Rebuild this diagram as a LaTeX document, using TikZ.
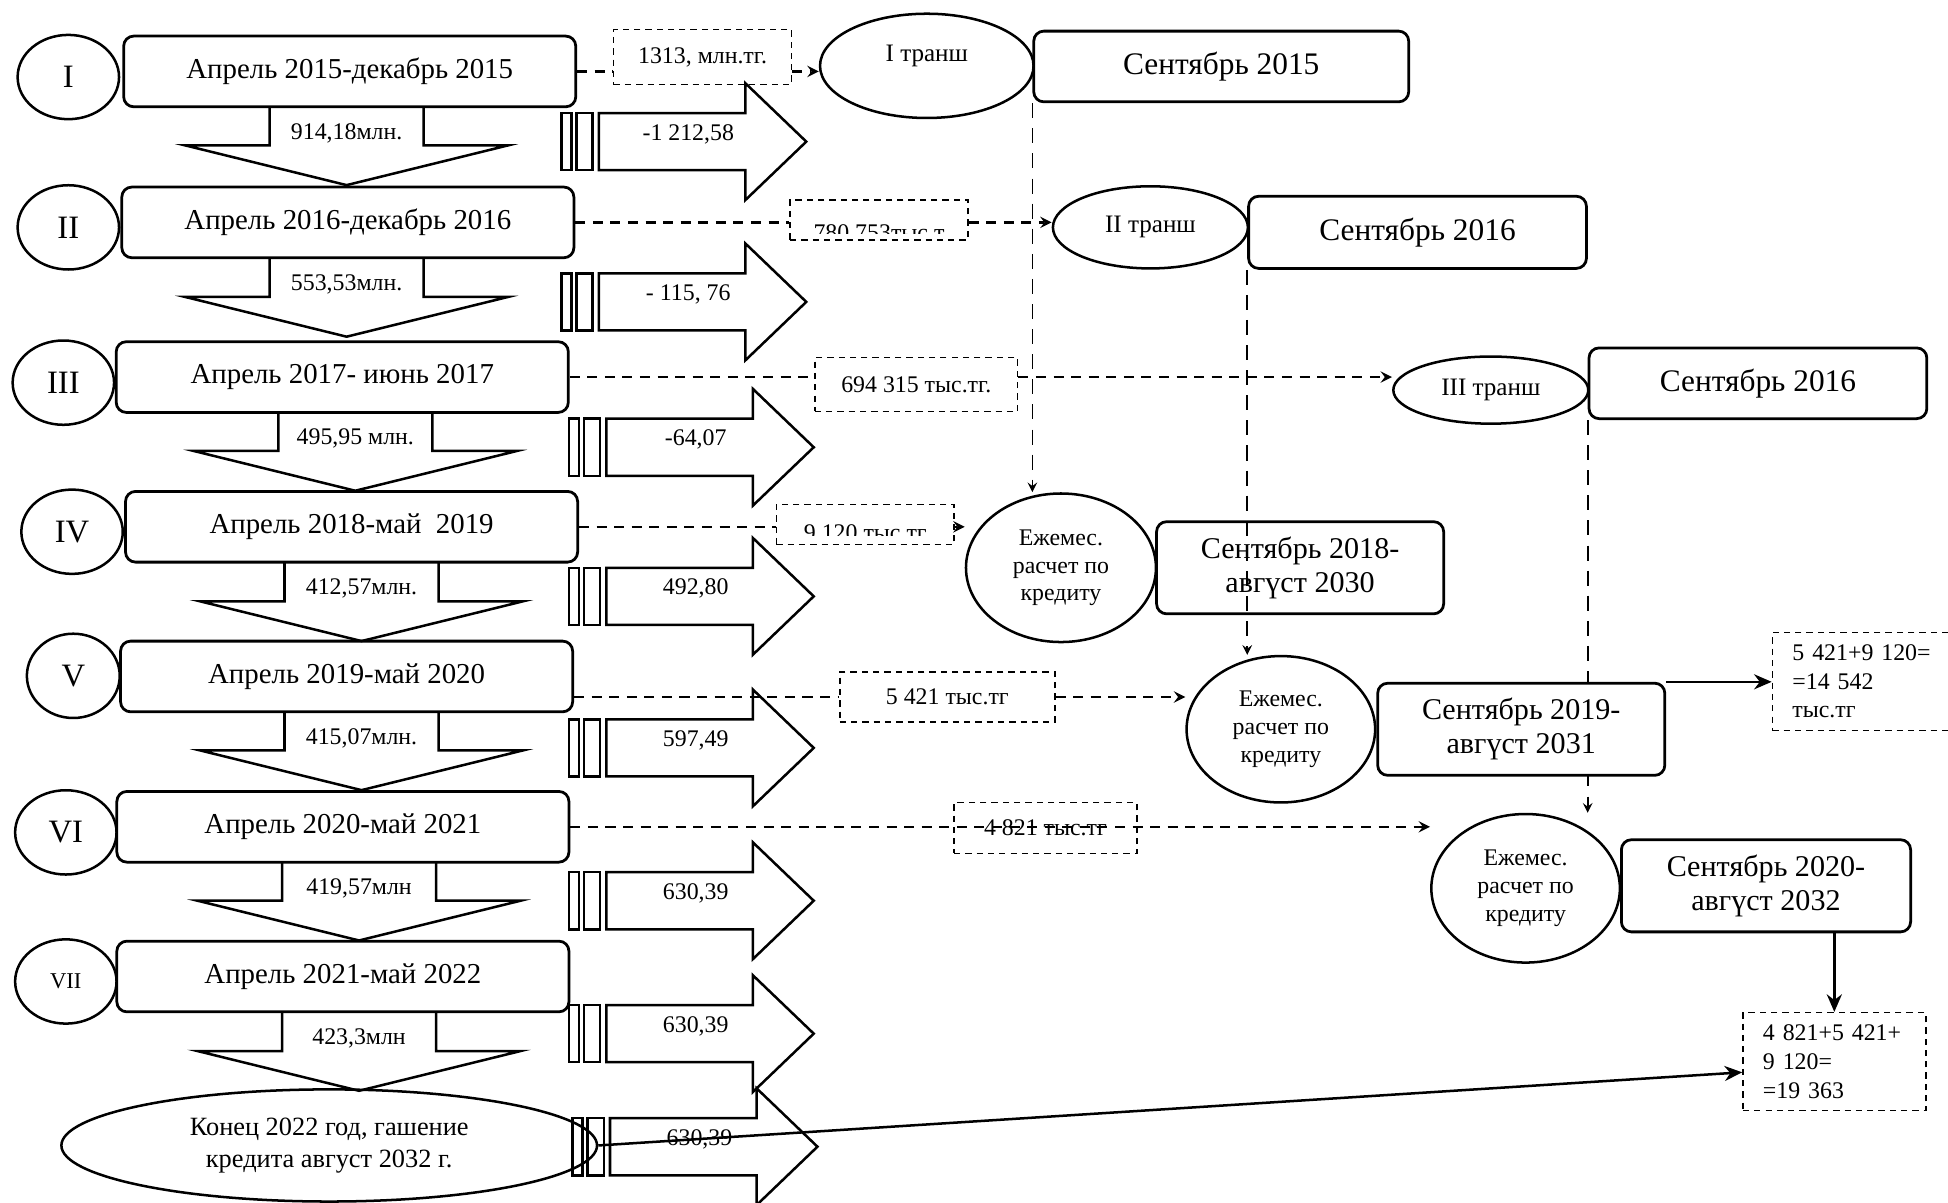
\documentclass[tikz,border=0pt]{standalone}
\usepackage{fontspec}
\setmainfont{Liberation Serif}
\usetikzlibrary{shapes.geometric, arrows.meta, backgrounds}

\begin{document}
\begin{tikzpicture}[x=0.0174cm, y=-0.0174cm,
    period/.style={draw, line width=1.1pt, rounded corners=4pt, minimum width=6.33cm, minimum height=0.99cm, font=\fontsize{11.5}{13}\selectfont},
    roman/.style={draw, ellipse, line width=1pt, minimum width=1.42cm, minimum height=1.18cm, inner sep=0pt, font=\fontsize{13}{15}\selectfont},
    month/.style={draw, line width=1.1pt, rounded corners=4pt, align=center, font=\fontsize{12.5}{13.5}\selectfont},
    month2/.style={month, font=\fontsize{12}{13.5}\selectfont},
    tranche/.style={draw, ellipse, line width=1pt, inner sep=0pt, font=\fontsize{10}{12}\selectfont},
    monthly/.style={draw, ellipse, line width=1pt, inner sep=0pt, align=center, minimum width=2.66cm, minimum height=2.08cm, font=\fontsize{9.5}{11}\selectfont},
    lbl/.style={draw, dash pattern=on 2.5pt off 2pt, line width=0.6pt, inner sep=0pt, font=\fontsize{9.5}{11}\selectfont},
    sumbox/.style={draw, dash pattern=on 2.5pt off 2pt, line width=0.6pt, align=left, inner xsep=0.28cm, font=\fontsize{9.5}{11.4}\selectfont},
    small/.style={font=\fontsize{9.5}{11}\selectfont, inner sep=1pt},
    blockarrow/.style={line width=1pt, line join=miter},
    link/.style={line width=1pt, dash pattern=on 4pt off 3pt, >=stealth},
    drop/.style={line width=0.7pt, dash pattern=on 6pt off 4pt, ->, >=stealth},
    solid/.style={line width=1pt, ->, >={Stealth[length=7pt, width=6pt]}}
  ]
  \useasboundingbox (0,0) rectangle (1568,968);

  % Periods
  \node[period] (p1) at (281.5,57.5) {Апрель 2015-декабрь 2015};
  \node[period] (p2) at (280,179) {Апрель 2016-декабрь 2016};
  \node[period] (p3) at (275.5,303.5) {Апрель 2017- июнь 2017};
  \node[period] (p4) at (283,424) {Апрель 2018-май~ 2019};
  \node[period] (p5) at (279,544.5) {Апрель 2019-май 2020};
  \node[period] (p6) at (276,665.5) {Апрель 2020-май 2021};
  \node[period] (p7) at (276,786) {Апрель 2021-май 2022};

  % Roman numerals
  \node[roman] (r1) at (55,62) {I};
  \node[roman] (r2) at (55,183) {II};
  \node[roman] (r3) at (51,308) {III};
  \node[roman] (r4) at (58,428) {IV};
  \node[roman, minimum width=1.3cm] (r5) at (59,544) {V};
  \node[roman] (r6) at (53,670) {VI};
  \node[roman, font=\fontsize{9}{11}\selectfont] (r7) at (53,790) {VII};

  % End of credit
  \node[draw, ellipse, line width=1pt, minimum width=7.5cm, minimum height=1.57cm, align=center, font=\fontsize{10.5}{13}\selectfont] (fin) at (265,922) {Конец 2022 год, гашение\\кредита август 2032 г.};

  % Down arrows
  \foreach \cx/\t/\lab [count=\i] in {279/86/{914,18млн.}, 279/208/{553,53млн.}, 286/332/{495,95 млн.}, 291/453/{412,57млн.}, 291/573/{415,07млн.}, 289/694/{419,57млн}, 289/815/{423,3млн}}{
    \draw[blockarrow] (\cx-62,\t) -- ++(0,31) -- ++(-68,0) -- (\cx,\t+63) -- (\cx+130,\t+31) -- ++(-68,0) -- ++(0,-31);
    \node[small] (dn\i) at (\cx,\t+21) {\lab};
  }

  % Right arrows
  \foreach \xb/\cy/\lab [count=\i] in {452/114/{-1 212,58}, 452/243/{- 115, 76}, 458/360/{-64,07}, 458/480/{492,80}, 458/602/{597,49}, 458/725/{630,39}, 458/832/{630,39}, 461/923/{630,39}}{
    \draw[blockarrow] (\xb,\cy-23) rectangle (\xb+8,\cy+23);
    \draw[blockarrow] (\xb+12,\cy-23) rectangle (\xb+25,\cy+23);
    \draw[blockarrow] (\xb+30,\cy-23) -- (\xb+148,\cy-23) -- (\xb+148,\cy-47) -- (\xb+197,\cy) -- (\xb+148,\cy+47) -- (\xb+148,\cy+23) -- (\xb+30,\cy+23) -- cycle;
    \node[small] (rt\i) at (\xb+102,\cy-6) {\lab};
  }

  % Tranches
  \node[tranche, minimum width=2.99cm, minimum height=1.46cm, text depth=0.36cm] (t1) at (746,53) {I транш};
  \node[tranche, minimum width=2.73cm, minimum height=1.15cm] (t2) at (926,183) {II транш};
  \node[tranche, minimum width=2.73cm, minimum height=0.94cm] (t3) at (1200,314) {III транш};

  % Months
  \node[month, minimum width=5.25cm, minimum height=0.99cm] (s1) at (983,53.5) {Сентябрь 2015};
  \node[month, minimum width=4.73cm, minimum height=1.01cm] (s2) at (1141,187) {Сентябрь 2016};
  \node[month, minimum width=4.73cm, minimum height=0.99cm] (s3) at (1415,308.5) {Сентябрь 2016};
  \node[month2, minimum width=4.02cm, minimum height=1.29cm] (s4) at (1046.5,457) {Сентябрь 2018-\\авгүст 2030};
  \node[month2, minimum width=4.05cm, minimum height=1.29cm] (s6) at (1421.5,713) {Сентябрь 2020-\\авгүст 2032};

  % Monthly payments
  \node[monthly] (m1) at (854,457) {Ежемес.\\расчет по\\кредиту};
  \node[monthly, minimum width=2.64cm, minimum height=2.05cm] (m2) at (1031,587) {Ежемес.\\расчет по\\кредиту};
  \node[monthly, minimum width=2.64cm] (m3) at (1228,715) {Ежемес.\\расчет по\\кредиту};

  % Sums
  \node[lbl, minimum width=2.49cm, minimum height=0.77cm] (l1) at (565.5,46) {1313, млн.тг.};
  \node[lbl, minimum width=2.49cm, minimum height=0.56cm] (l2) at (707.5,177) {};
  \begin{scope}
    \clip ([yshift=0.1cm]l2.south west) rectangle (l2.north east);
    \node[small, anchor=base] (l2t) at (l2.south) {780 753тыс.т};
  \end{scope}
  \node[lbl, minimum width=2.84cm, minimum height=0.75cm] (l3) at (737.5,309.5) {694 315 тыс.тг.};
  \node[lbl, minimum width=2.49cm, minimum height=0.56cm] (l4) at (696.5,422) {};
  \begin{scope}
    \clip ([yshift=0.14cm]l4.south west) rectangle (l4.north east);
    \node[small, anchor=base] (l4t) at ([yshift=0.07cm]l4.south) {9 120 тыс.тг};
  \end{scope}
  \node[lbl, minimum width=3.01cm, minimum height=0.70cm] (l5) at (762.5,561) {5 421 тыс.тг};
  \node[lbl, minimum width=2.56cm, minimum height=0.71cm] (l6) at (841.5,666.5) {4 821 тыс.тг};

  \node[sumbox, text width=2.2cm, minimum height=1.37cm] (sa) at (1506,548.5) {5 421+9 120=\\=14 542\\тыс.тг};
  \node[sumbox, text width=2.0cm, minimum height=1.37cm] (sb) at (1476.5,854.5) {4 821+5 421+\\9 120=\\=19 363};

  % Dashed links
  \draw[link] (p1.east) -- (p1.east -| l1.west);
  \draw[link, ->] (l1.east |- p1.east) -- (p1.east -| t1.west);
  \draw[link] (p2.east) -- (p2.east -| l2.west);
  \draw[link, ->] (l2.east |- p2.east) -- (p2.east -| t2.west);
  \draw[link] (p3.east) -- (p3.east -| l3.west);
  \draw[link, ->] (l3.east |- p3.east) -- (p3.east -| t3.west);
  \draw[link] (p4.east) -- (p4.east -| l4.west);
  \draw[link, ->] (l4.east |- p4.east) -- (p4.east -| m1.west);
  \draw[link] (p5.east |- l5) -- (l5.west);
  \draw[link, ->] (l5.east) -- (l5 -| m2.west);
  \draw[link, ->] (p6.east) -- (p6.east -| m3.west);

  % Drops
  \begin{scope}[on background layer]
    \draw[drop] (s1.south west) -- (s1.south west |- m1.north);
    \draw[drop] (s2.south west) -- (s2.south west |- m2.north);
    \draw[drop] (s3.south west) -- (s3.south west |- m3.north);
  \end{scope}
  \node[month2, fill=white, minimum width=4.02cm, minimum height=1.29cm] (s5) at (1224.5,587) {Сентябрь 2019-\\авгүст 2031};

  % Totals
  \draw[solid] (s5.north east) -- (s5.north east -| sa.west);
  \draw[solid] (sb.north |- s6.south) -- (sb.north);
  \draw[solid] (fin.east) -- ([yshift=-0.15cm]sb.west);
\end{tikzpicture}
\end{document}
